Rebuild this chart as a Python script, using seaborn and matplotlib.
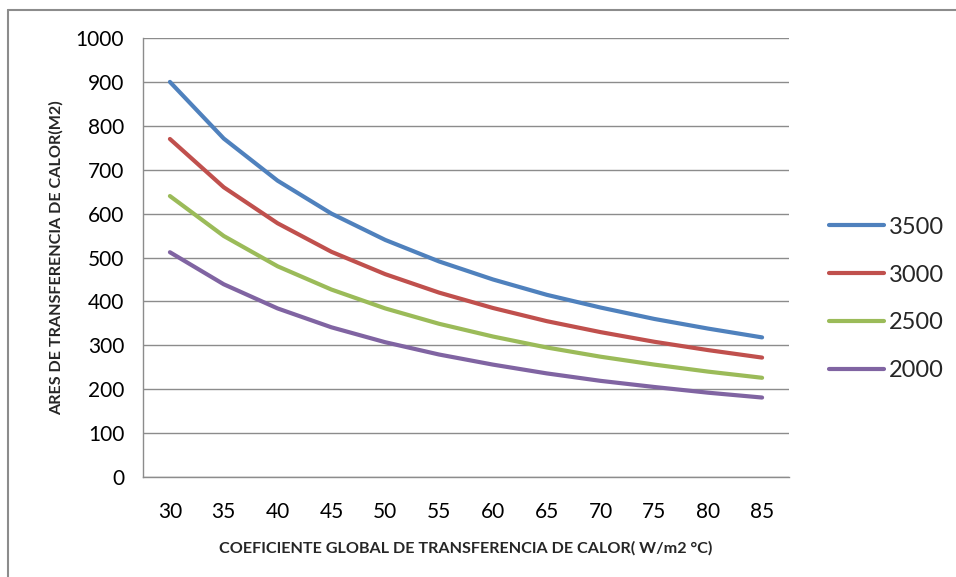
import matplotlib
matplotlib.use("Agg")
import matplotlib.pyplot as plt
from matplotlib.lines import Line2D
import seaborn as sns
import pandas as pd
import numpy as np

# ---- data ----
coef = [30, 35, 40, 45, 50, 55, 60, 65, 70, 75, 80, 85]
s3500 = [900, 771, 675, 600, 540, 491, 450, 415, 386, 360, 338, 318]
s3000 = [770, 660, 578, 513, 462, 420, 385, 355, 330, 308, 289, 272]
s2500 = [640, 549, 480, 427, 384, 349, 320, 295, 274, 256, 240, 226]
s2000 = [512, 439, 384, 341, 307, 279, 256, 236, 219, 205, 192, 181]
series_names = ["3500", "3000", "2500", "2000"]
y_ticks = [0, 100, 200, 300, 400, 500, 600, 700, 800, 900, 1000]

colors = ["#4F81BD", "#C0504D", "#9BBB59", "#8064A2"]

sns.set_theme(style="white")
plt.rcParams["font.family"] = ["Lato", "DejaVu Sans"]

rows = []
for name, vals in zip(series_names, [s3500, s3000, s2500, s2000]):
    for i, (c, v) in enumerate(zip(coef, vals)):
        rows.append({"pos": i, "coef": c, "area": v, "serie": name})
df = pd.DataFrame(rows)

fig = plt.figure(figsize=(9.56, 5.77), dpi=100)
ax = fig.add_axes([143/956, 1-477/577, (789-143)/956, (477-38)/577])

sns.lineplot(data=df, x="pos", y="area", hue="serie", hue_order=series_names,
             palette=colors, linewidth=3.0, ax=ax, legend=True,
             solid_capstyle="round")

grid_c = "#8C8C8C"
ax.set_xlim(-0.5, len(coef) - 0.5)
ax.set_ylim(0, 1000)
ax.set_yticks(y_ticks)
ax.set_yticklabels([str(v) for v in y_ticks], fontsize=15)
ax.set_xticks(range(len(coef)))
ax.set_xticklabels([str(c) for c in coef], fontsize=15)
ax.set_xticks(np.arange(-0.5, len(coef), 1.0), minor=True)
ax.tick_params(axis="x", which="major", length=0, pad=18, colors="black")
ax.tick_params(axis="x", which="minor", length=4.5, width=1, color=grid_c, direction="out")
ax.tick_params(axis="y", which="major", length=4.5, width=1, color=grid_c, pad=9)
for lab in ax.get_yticklabels():
    lab.set_color("black")
ax.yaxis.grid(True, color=grid_c, linewidth=1)
ax.xaxis.grid(False)
ax.set_axisbelow(True)
for side in ["top", "right"]:
    ax.spines[side].set_visible(False)
for side in ["left", "bottom"]:
    ax.spines[side].set_color(grid_c)
    ax.spines[side].set_linewidth(1)

ax.set_xlabel("COEFICIENTE GLOBAL DE TRANSFERENCIA DE CALOR( W/m2 °C)",
              fontsize=11.6, fontweight="bold", labelpad=14)
ax.set_ylabel("ARES DE TRANSFERENCIA DE CALOR(M2)",
              fontsize=11.6, fontweight="bold", labelpad=9)

leg = ax.legend(loc="center left", bbox_to_anchor=(820/956, 1-299/577),
                bbox_transform=fig.transFigure, frameon=False, fontsize=17,
                handlelength=2.3, handletextpad=0.2, labelspacing=1.14,
                borderaxespad=0)
for h in leg.get_lines():
    h.set_linewidth(3.0)
    h.set_solid_capstyle("round")

# outer chart border (left and top visible)
bc = "#8C8C8C"
fig.add_artist(Line2D([8/956, 8/956], [0, 1-10/577], transform=fig.transFigure, color=bc, linewidth=1.5))
fig.add_artist(Line2D([8/956, 1], [1-10/577, 1-10/577], transform=fig.transFigure, color=bc, linewidth=1.5))

fig.savefig("out.png", dpi=100)
